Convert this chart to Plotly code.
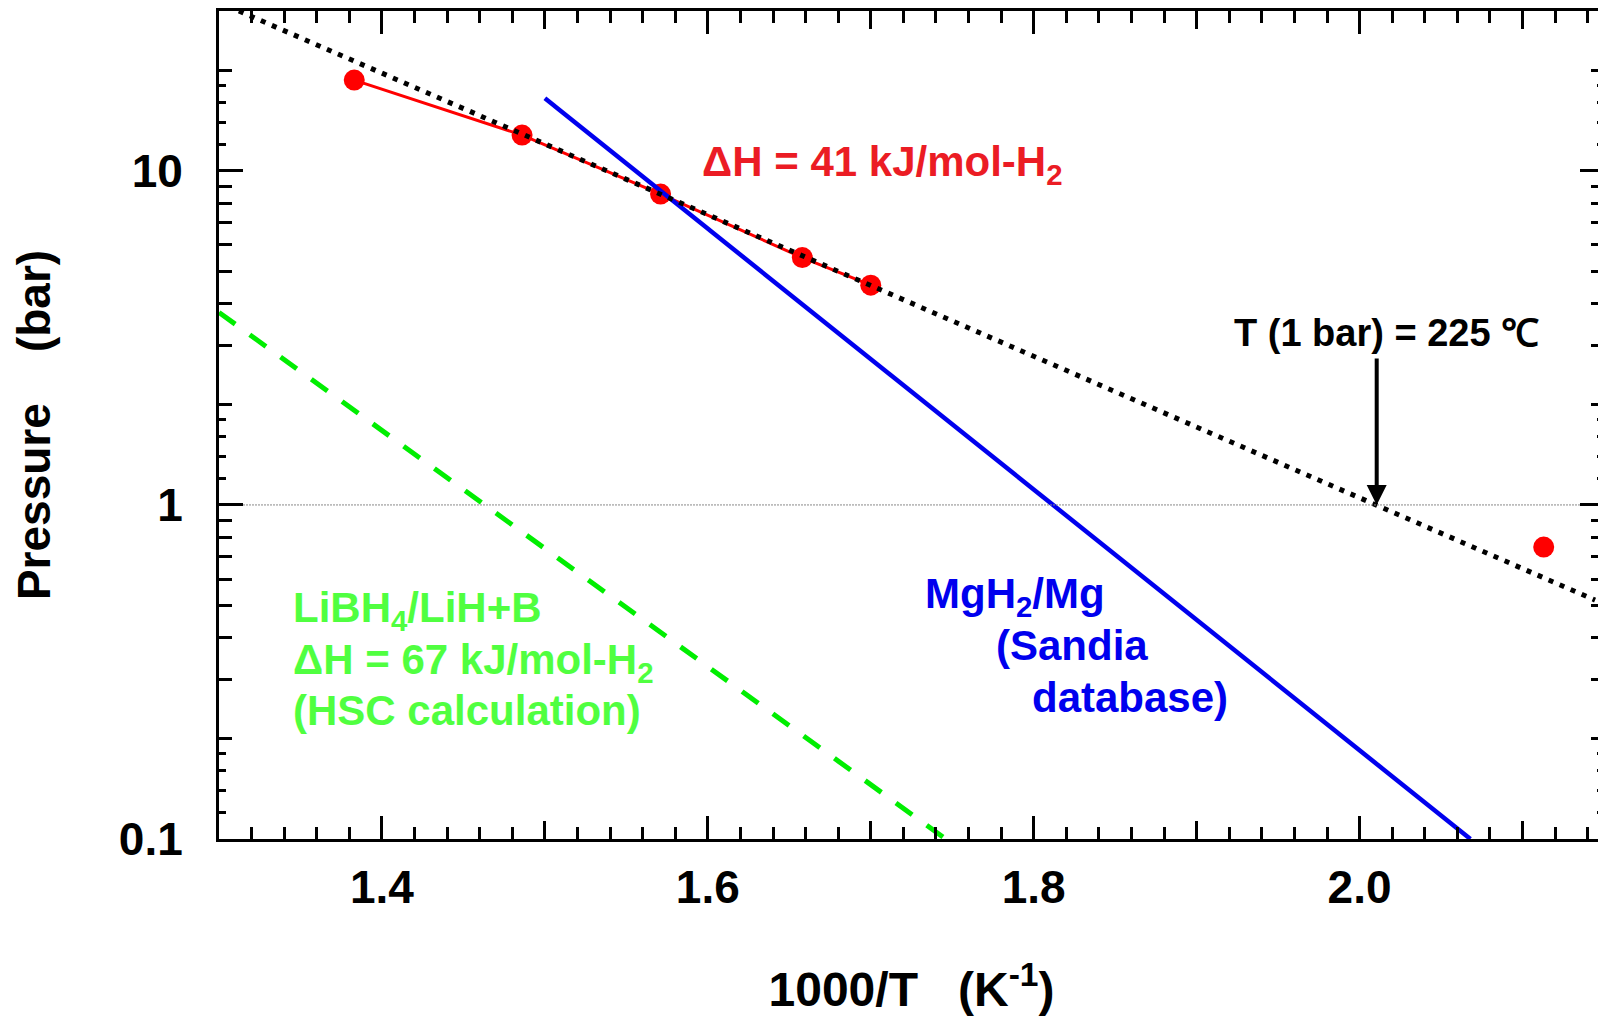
import plotly.graph_objects as go

# ---------------- data ----------------
# measured red points, 1000/T (1/K) and pressure (bar)
red_x = [1.383, 1.486, 1.571, 1.658, 1.700]
red_y = [18.7, 12.8, 8.52, 5.50, 4.55]
# isolated red point
extra_x = [2.113]
extra_y = [0.748]
# van't Hoff fit (dotted black), endpoints
fit_x = [1.3122, 2.1445]
fit_y = [30.1, 0.519]
# MgH2/Mg (Sandia database) line endpoints
mg_x = [1.500, 2.068]
mg_y = [16.5, 0.1]
# LiBH4/LiH+B (HSC calculation) dashed line endpoints
li_x = [1.300, 1.746]
li_y = [3.77, 0.1]
# 1 bar reference line
ref_x = [1.30, 2.15]
ref_y = [1.0, 1.0]
# 1 bar temperature (arrow position)
t1bar_x = 2.0105

x_major = [1.4, 1.6, 1.8, 2.0]
x_major_text = ["1.4", "1.6", "1.8", "2.0"]
x_mid = [1.3, 1.5, 1.7, 1.9, 2.1]
y_major = [0.1, 1, 10]
y_major_text = ["0.1", "1", "10"]

# --------------- styling ----------------
FONT = "Liberation Sans, Arial, Helvetica, sans-serif"
RED = "#FF0000"
RED_TXT = "#EB1C24"
BLUE = "#0000EE"
GREEN_LINE = "#00EE00"
GREEN_TXT = "#50FF40"
X_RANGE = [1.30, 2.15]
Y_RANGE = [-1, 1.4786]

x_minor = [round(1.30 + 0.02 * i, 2) for i in range(0, 43)]
x_minor = [v for v in x_minor if abs(v * 10 - round(v * 10)) > 1e-6]
y_minor = [0.2, 0.3, 0.4, 0.5, 0.6, 0.7, 0.8, 0.9,
           2, 3, 4, 5, 6, 7, 8, 9, 20]
y_short = [0.12, 0.14, 0.16, 0.18, 1.2, 1.4, 1.6, 1.8, 12, 14, 16, 18]

fig = go.Figure()

# 1 bar reference line (on overlay axes)
fig.add_trace(go.Scatter(x=ref_x, y=ref_y, mode="lines", xaxis="x2", yaxis="y2",
                         line=dict(color="#888888", width=1, dash="2px,1px"),
                         hoverinfo="skip", showlegend=False))
# green dashed
fig.add_trace(go.Scatter(x=li_x, y=li_y, mode="lines",
                         line=dict(color=GREEN_LINE, width=5, dash="20px,18px"),
                         showlegend=False))
# red measured
fig.add_trace(go.Scatter(x=red_x, y=red_y, mode="lines+markers",
                         line=dict(color=RED, width=3),
                         marker=dict(color=RED, size=21),
                         showlegend=False))
fig.add_trace(go.Scatter(x=extra_x, y=extra_y, mode="markers",
                         marker=dict(color=RED, size=21),
                         showlegend=False))
# blue MgH2
fig.add_trace(go.Scatter(x=mg_x, y=mg_y, mode="lines",
                         line=dict(color=BLUE, width=4.5),
                         showlegend=False))
# dotted black fit
fig.add_trace(go.Scatter(x=fit_x, y=fit_y, mode="lines",
                         line=dict(color="black", width=5, dash="5px,7px"),
                         showlegend=False))

axis_common = dict(ticks="inside", tickcolor="black", tickwidth=3,
                   showgrid=False, zeroline=False)

# the frame's right side lies just beyond the visible page, as in the original
fig.update_layout(
    width=1607, height=1016,
    margin=dict(l=219, r=0, t=11, b=177, pad=0),
    plot_bgcolor="white", paper_bgcolor="white",
    font=dict(family=FONT, color="black"),
    xaxis=dict(range=X_RANGE, tickmode="array", tickvals=x_major,
               ticktext=x_major_text, ticklen=23, showline=True, linewidth=3,
               linecolor="black", mirror="ticks",
               tickfont=dict(size=46, family=FONT, weight="bold"),
               ticklabelstandoff=6,
               minor=dict(tickmode="array", tickvals=x_minor, ticks="inside",
                          ticklen=12, tickwidth=3, tickcolor="black"),
               title=dict(text="1000/T\u00a0\u00a0\u00a0(K<sup>-1</sup>)",
                          font=dict(size=48, family=FONT, weight="bold"),
                          standoff=62),
               **axis_common),
    xaxis2=dict(range=X_RANGE, overlaying="x", anchor="y2", side="bottom",
                tickmode="array", tickvals=x_mid, ticklen=18, showline=False,
                showticklabels=False, mirror="ticks", **axis_common),
    yaxis=dict(type="log", range=Y_RANGE, tickmode="array", tickvals=y_major,
               ticktext=y_major_text, ticklen=24, showline=True, linewidth=3,
               linecolor="black", mirror="ticks",
               tickfont=dict(size=46, family=FONT, weight="bold"),
               ticklabelstandoff=24,
               minor=dict(tickmode="array", tickvals=y_minor, ticks="inside",
                          ticklen=13, tickwidth=3, tickcolor="black"),
               title=dict(text="Pressure\u00a0\u00a0\u00a0\u00a0(bar)",
                          font=dict(size=46, family=FONT, weight="bold"),
                          standoff=54),
               **axis_common),
    yaxis2=dict(type="log", range=Y_RANGE, overlaying="y", anchor="x2", side="left",
                tickmode="array", tickvals=y_short, ticklen=7, showline=False,
                showticklabels=False, mirror="ticks", **axis_common),
)

ann_font = dict(family=FONT, size=42, weight="bold")
fig.add_annotation(x=1.5955, y=1.018, xref="x", yref="y", xanchor="left", yanchor="middle",
                   text="ΔH = 41 kJ/mol-H<sub>2</sub>", showarrow=False,
                   font=dict(ann_font, color=RED_TXT))
for txt, yv in [("LiBH<sub>4</sub>/LiH+B", -0.3160),
                ("ΔH = 67 kJ/mol-H<sub>2</sub>", -0.4720),
                ("(HSC calculation)", -0.6153)]:
    fig.add_annotation(x=1.3440, y=yv, xref="x", yref="y", xanchor="left", yanchor="middle",
                       text=txt, showarrow=False, font=dict(ann_font, color=GREEN_TXT))
for txt, xv, yv in [("MgH<sub>2</sub>/Mg", 1.7323, -0.2730),
                    ("(Sandia", 1.7758, -0.4201),
                    ("database)", 1.7979, -0.5758)]:
    fig.add_annotation(x=xv, y=yv, xref="x", yref="y", xanchor="left", yanchor="middle",
                       text=txt, showarrow=False, font=dict(ann_font, color=BLUE))
fig.add_annotation(x=2.0167, y=0.514, xref="x", yref="y", xanchor="center", yanchor="middle",
                   text="T (1 bar) = 225 ℃", showarrow=False,
                   font=dict(family=FONT, size=38, weight="bold", color="black"))
fig.add_annotation(x=t1bar_x, y=0, xref="x", yref="y", ax=0, ay=-148, text="",
                   showarrow=True, arrowhead=2, arrowsize=1, arrowwidth=4,
                   arrowcolor="black", standoff=0)

page_js = ("document.documentElement.style.overflow='hidden';"
           "document.body.style.margin='0';"
           "document.body.style.overflow='hidden';")
fig.write_html("out.html", post_script=page_js,
               config={"displayModeBar": False, "staticPlot": True})
